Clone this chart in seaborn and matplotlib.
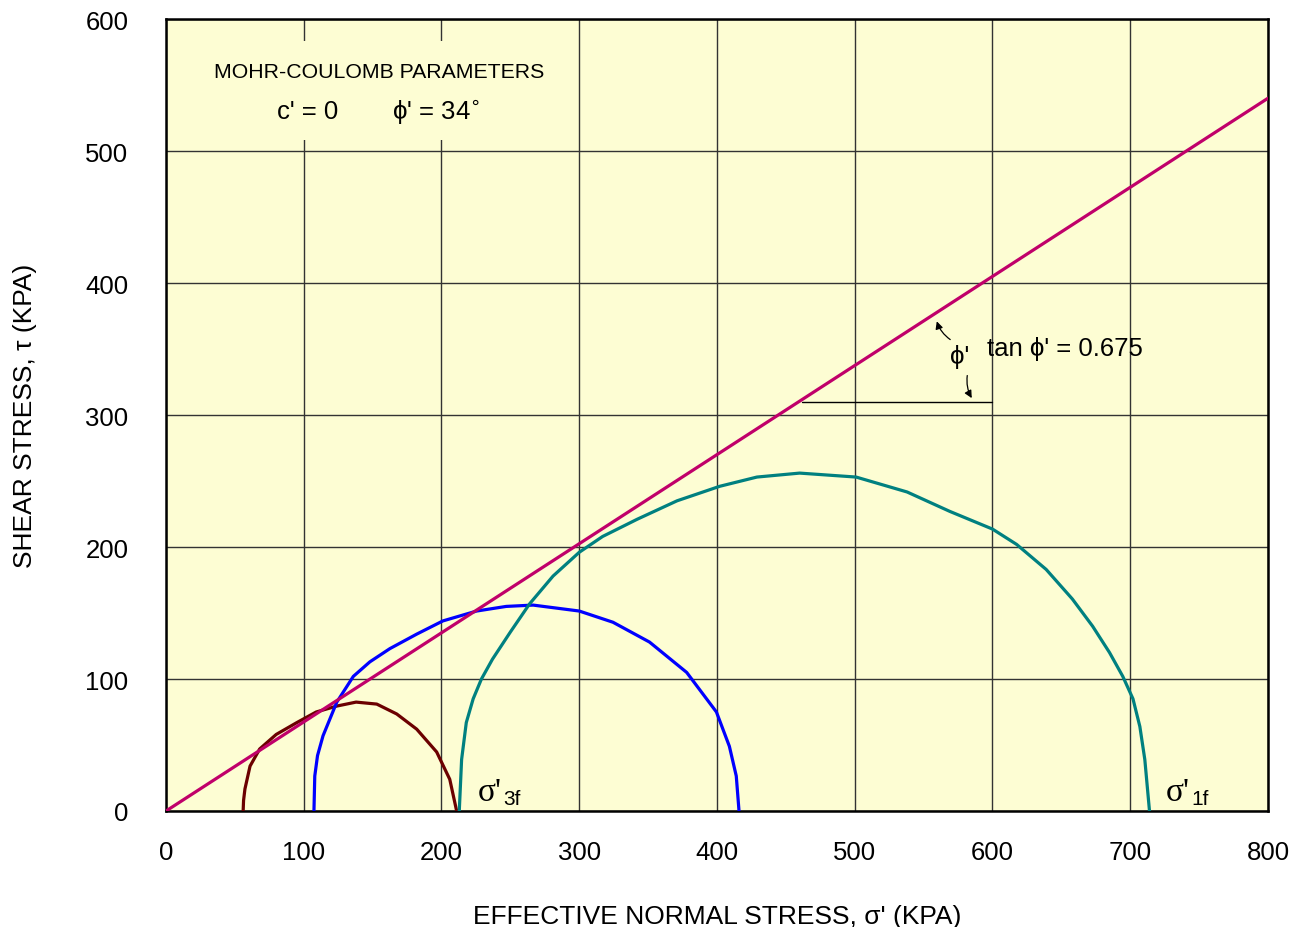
import matplotlib
matplotlib.use("Agg")
import matplotlib.pyplot as plt
import seaborn as sns
from matplotlib.patches import Rectangle

# -------------------------------
# Data
# -------------------------------

# failure envelope, c' = 0, tan phi' = 0.675
env_sigma = [0, 800]
env_tau = [0, 540]

brown_sigma = [56, 56.3, 57.3, 61, 68, 80, 95, 109, 124, 138, 153, 167.5, 182, 196.5, 206, 211]
brown_tau = [0, 8, 16.7, 34, 47, 58, 67, 75, 79.5, 82.5, 81, 73.5, 62, 44.7, 24, 0]

blue_sigma = [107.4, 108, 110, 114, 124, 136, 148, 162.5, 182, 201, 225.5, 247, 266.5,
              300, 324.5, 351, 378, 399.6, 409, 414, 416]
blue_tau = [0, 26.5, 42, 57, 82.5, 102, 113, 123, 134, 144, 151.5, 155, 156,
            151.5, 143, 128, 105, 75, 49, 26.5, 0]

teal_sigma = [212.9, 214.6, 218, 223, 229, 237, 250, 264, 281, 300, 317, 342, 371, 402,
              429, 460, 501, 538, 569, 600, 617.5, 639, 658, 672.7, 685, 694.6, 702, 707,
              710.6, 714]
teal_tau = [0, 39, 67, 85, 100, 115, 135.6, 157, 178, 196, 208, 221, 235, 246,
            253, 256, 253, 241.7, 227, 213.6, 202, 183, 160.6, 140, 120, 102, 85, 64,
            39, 0]

x_ticks = [0, 100, 200, 300, 400, 500, 600, 700, 800]
y_ticks = [0, 100, 200, 300, 400, 500, 600]

# -------------------------------
# Plot
# -------------------------------

sns.set_style("white")
plt.rcParams["font.family"] = ["Liberation Sans", "DejaVu Sans"]
plt.rcParams["text.color"] = "black"
plt.rcParams["axes.labelcolor"] = "black"
plt.rcParams["xtick.color"] = "#333333"
plt.rcParams["ytick.color"] = "#333333"
plt.rcParams["xtick.labelcolor"] = "black"
plt.rcParams["ytick.labelcolor"] = "black"

fig = plt.figure(figsize=(12.99, 9.28), dpi=100)
ax = fig.add_axes([0.1278, 0.125, 0.8483, 0.8534])
ax.set_facecolor("#FDFDD3")

sns.lineplot(x=env_sigma, y=env_tau, ax=ax, color="#C0006A", linewidth=2.3, zorder=5)
sns.lineplot(x=brown_sigma, y=brown_tau, ax=ax, sort=False, estimator=None,
             color="#6B0000", linewidth=2.3, zorder=4)
sns.lineplot(x=blue_sigma, y=blue_tau, ax=ax, sort=False, estimator=None,
             color="#0000FF", linewidth=2.3, zorder=4)
sns.lineplot(x=teal_sigma, y=teal_tau, ax=ax, sort=False, estimator=None,
             color="#008080", linewidth=2.3, zorder=4)

ax.set_xlim(0, 800)
ax.set_ylim(0, 600)
ax.set_xticks(x_ticks)
ax.set_yticks(y_ticks)
ax.grid(True, color="#333333", linewidth=1.0)
ax.set_axisbelow(True)
ax.tick_params(axis="both", direction="out", length=9, width=1, labelsize=18.5)
ax.tick_params(axis="y", pad=18)
ax.tick_params(axis="x", pad=12)
for s in ax.spines.values():
    s.set_color("black")
    s.set_linewidth(1.8)

ax.set_xlabel("EFFECTIVE NORMAL STRESS, σ' (KPA)", fontsize=19, labelpad=29)
ax.set_ylabel("SHEAR STRESS, τ (KPA)", fontsize=19, labelpad=35)

# parameter box (hides the grid behind it)
ax.add_patch(Rectangle((3, 508), 270, 75, facecolor="#FDFDD3", edgecolor="none", zorder=2))
ax.text(155, 560, "MOHR-COULOMB PARAMETERS", fontsize=15.3, ha="center", va="center", zorder=6)
ax.text(103, 530, "c' = 0", fontsize=18.5, ha="center", va="center", zorder=6)
ax.text(196, 530, r"ϕ' = 34$^{\circ}$", fontsize=18.5, ha="center", va="center", zorder=6)

# slope annotation
ax.plot([462, 600], [310, 310], color="black", linewidth=1.0, zorder=3)
ax.annotate("", xy=(559, 373), xytext=(571, 356),
            arrowprops=dict(arrowstyle="-|>", color="black", lw=0.9,
                            connectionstyle="arc3,rad=-0.2", mutation_scale=11))
ax.annotate("", xy=(586, 311), xytext=(582, 332),
            arrowprops=dict(arrowstyle="-|>", color="black", lw=0.9,
                            connectionstyle="arc3,rad=0.2", mutation_scale=11))
ax.text(576, 345, "ϕ'", fontsize=18.5, ha="center", va="center", zorder=6)
ax.text(596, 351, "tan ϕ' = 0.675", fontsize=18.5, ha="left", va="center", zorder=6)

# principal stress labels
ax.text(226, 8, "σ'", fontsize=24, family="Liberation Serif", ha="left", va="baseline", zorder=6)
ax.text(245, 5, "3f", fontsize=15, ha="left", va="baseline", zorder=6)
ax.text(725.5, 8, "σ'", fontsize=24, family="Liberation Serif", ha="left", va="baseline", zorder=6)
ax.text(744.5, 5, "1f", fontsize=15, ha="left", va="baseline", zorder=6)

plt.savefig("out.png", dpi=100)
